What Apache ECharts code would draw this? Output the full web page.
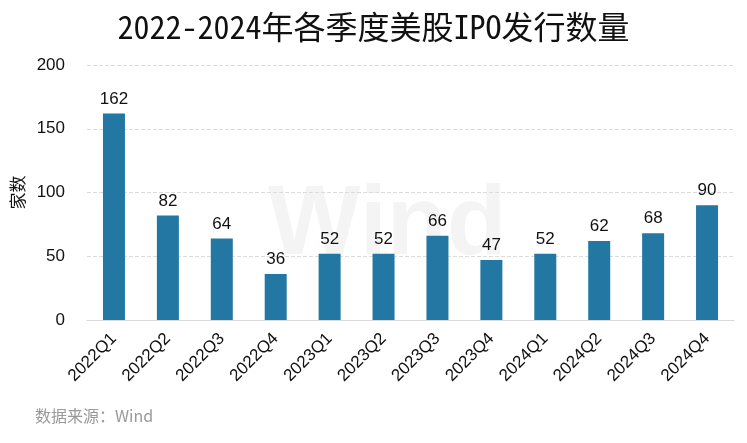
<!DOCTYPE html>
<html><head><meta charset="utf-8">
<script src="https://cdn.jsdelivr.net/npm/echarts@6/dist/echarts.min.js"></script>
<style>html,body{margin:0;padding:0;background:#fff}#c{width:747px;height:443px}</style>
</head><body><div id="c"></div>
<script>
var categories = ['2022Q1','2022Q2','2022Q3','2022Q4','2023Q1','2023Q2','2023Q3','2023Q4','2024Q1','2024Q2','2024Q3','2024Q4'];
var values = [162,82,64,36,52,52,66,47,52,62,68,90];
var yTicks = [0,50,100,150,200];
var chart = echarts.init(document.getElementById('c'));
chart.setOption({
  animation:false,
  title:{text:'2022-2024年各季度美股IPO发行数量',left:'center',top:6,textStyle:{fontSize:32,fontWeight:'normal',color:'#111',fontFamily:"'Noto Sans Mono CJK SC','DejaVu Sans Mono','Noto Sans CJK SC',monospace"}},
  graphic:[
    {type:'text',left:268,top:178,z:0,style:{text:'Wind',fontSize:98,fontWeight:'bold',fill:'rgba(0,0,0,0.045)',fontFamily:'Liberation Sans'}},
    {type:'text',left:35,top:408,style:{text:'数据来源：Wind',fontSize:16,fill:'#999',fontFamily:'Noto Sans CJK SC'}}
  ],
  grid:{left:87,right:13,top:65,bottom:123,containLabel:false},
  xAxis:{type:'category',data:categories,axisTick:{show:false},
    axisLine:{lineStyle:{color:'#d9d9d9'}},
    axisLabel:{rotate:45,fontSize:17,color:'#111',margin:16,interval:0,fontFamily:'Liberation Sans'}},
  yAxis:{type:'value',min:yTicks[0],max:yTicks[yTicks.length-1],interval:50,
    name:'家数',nameLocation:'middle',nameGap:52,nameRotate:90,nameTextStyle:{fontSize:17,color:'#111',fontFamily:'Noto Sans CJK SC'},
    axisLabel:{fontSize:17,color:'#111',margin:22,fontFamily:'Liberation Sans'},
    splitLine:{lineStyle:{type:'dashed',color:'#dcdcdc'}},axisLine:{show:false},axisTick:{show:false}},
  series:[{type:'bar',data:values,barWidth:22,itemStyle:{color:'#2277a3'},
    label:{show:true,position:'top',fontSize:17,color:'#111',distance:6,fontFamily:'Liberation Sans'}}]
});
</script></body></html>
